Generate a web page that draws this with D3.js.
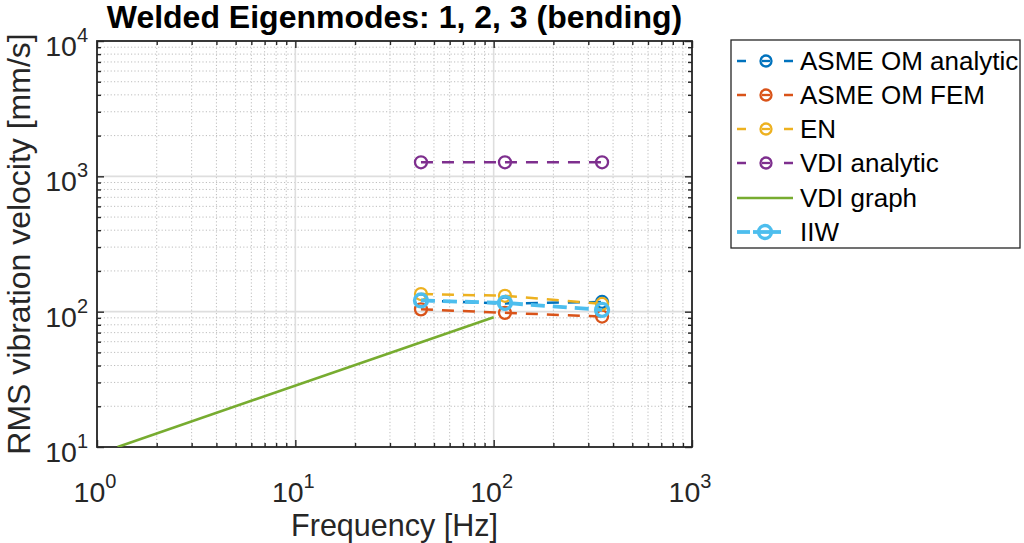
<!DOCTYPE html>
<html>
<head>
<meta charset="utf-8">
<script src="https://cdn.jsdelivr.net/npm/d3@7"></script>
<style>
  html, body { margin: 0; padding: 0; background: #fff; }
  svg { display: block; font-family: "Liberation Sans", Arial, Helvetica, sans-serif; }
</style>
</head>
<body>
<svg id="chart" width="1024" height="543"></svg>
<script>
// Eigenmode frequencies [Hz] of the welded structure (modes 1, 2, 3)
const modeFreq = [43, 114, 352];

// RMS vibration velocity limits [mm/s] for each method
const asmeAnalytic = [121, 115, 118];
const asmeFem      = [104, 98, 92];
const enValues     = [135, 131, 114];
const vdiAnalytic  = [1270, 1270, 1270];
const iiwValues    = [121, 116, 103];

// VDI limit curve (frequency, velocity)
const vdiGraphFreq = [1.27, 100];
const vdiGraphVel  = [10, 91];

const seriesNames = ["ASME OM analytic", "ASME OM FEM", "EN", "VDI analytic", "VDI graph", "IIW"];
const seriesColors = ["#0072BD", "#D95319", "#EDB120", "#7E2F8E", "#77AC30", "#4DBEEE"];

const xTickExp = [0, 1, 2, 3];
const yTickExp = [1, 2, 3, 4];

const svg = d3.select("#chart");
const pLeft = 97, pRight = 692, pTop = 41, pBottom = 447;

const x = d3.scaleLog().domain([1, 1000]).range([pLeft, pRight]);
const y = d3.scaleLog().domain([10, 10000]).range([pBottom, pTop]);

// minor positions: 2..9 within each decade
function minorTicks(lo, hi) {
  const out = [];
  for (let e = lo; e < hi; e++) for (let k = 2; k <= 9; k++) out.push(k * Math.pow(10, e));
  return out;
}
const xMinor = minorTicks(0, 3);
const yMinor = minorTicks(1, 4);
const xMajor = xTickExp.map(e => Math.pow(10, e));
const yMajor = yTickExp.map(e => Math.pow(10, e));

const grid = svg.append("g");
// minor grid (dotted)
grid.selectAll(".gxm").data(xMinor).join("line")
  .attr("x1", d => x(d)).attr("x2", d => x(d)).attr("y1", pTop).attr("y2", pBottom)
  .attr("stroke", "#bdbdbd").attr("stroke-width", 1).attr("stroke-dasharray", "1.2,2.2");
grid.selectAll(".gym").data(yMinor).join("line")
  .attr("y1", d => y(d)).attr("y2", d => y(d)).attr("x1", pLeft).attr("x2", pRight)
  .attr("stroke", "#bdbdbd").attr("stroke-width", 1).attr("stroke-dasharray", "1.2,2.2");
// major grid (solid)
grid.selectAll(".gxM").data(xMajor).join("line")
  .attr("x1", d => x(d)).attr("x2", d => x(d)).attr("y1", pTop).attr("y2", pBottom)
  .attr("stroke", "#dedede").attr("stroke-width", 1.6);
grid.selectAll(".gyM").data(yMajor).join("line")
  .attr("y1", d => y(d)).attr("y2", d => y(d)).attr("x1", pLeft).attr("x2", pRight)
  .attr("stroke", "#dedede").attr("stroke-width", 1.6);

// axes with inward ticks on all four sides
const axColor = "#262626";
function styleAxis(g) {
  g.select(".domain").remove();
  g.selectAll(".tick line").attr("stroke", axColor).attr("stroke-width", 1.4);
}
svg.append("g").attr("transform", `translate(0,${pBottom})`)
  .call(d3.axisBottom(x).tickValues(xMinor).tickSize(-4).tickFormat("")).call(styleAxis);
svg.append("g").attr("transform", `translate(0,${pBottom})`)
  .call(d3.axisBottom(x).tickValues(xMajor).tickSize(-7).tickFormat("")).call(styleAxis);
svg.append("g").attr("transform", `translate(0,${pTop})`)
  .call(d3.axisTop(x).tickValues(xMinor).tickSize(-4).tickFormat("")).call(styleAxis);
svg.append("g").attr("transform", `translate(0,${pTop})`)
  .call(d3.axisTop(x).tickValues(xMajor).tickSize(-7).tickFormat("")).call(styleAxis);
svg.append("g").attr("transform", `translate(${pLeft},0)`)
  .call(d3.axisLeft(y).tickValues(yMinor).tickSize(-4).tickFormat("")).call(styleAxis);
svg.append("g").attr("transform", `translate(${pLeft},0)`)
  .call(d3.axisLeft(y).tickValues(yMajor).tickSize(-7).tickFormat("")).call(styleAxis);
svg.append("g").attr("transform", `translate(${pRight},0)`)
  .call(d3.axisRight(y).tickValues(yMinor).tickSize(-4).tickFormat("")).call(styleAxis);
svg.append("g").attr("transform", `translate(${pRight},0)`)
  .call(d3.axisRight(y).tickValues(yMajor).tickSize(-7).tickFormat("")).call(styleAxis);

// box
svg.append("rect").attr("x", pLeft).attr("y", pTop).attr("width", pRight - pLeft).attr("height", pBottom - pTop)
  .attr("fill", "none").attr("stroke", axColor).attr("stroke-width", 1.8);

// tick labels as 10^n
const tickFont = 28.5, supFont = 20;
xTickExp.forEach(e => {
  const t = svg.append("text").attr("x", x(Math.pow(10, e)) - 2).attr("y", 502)
    .attr("text-anchor", "middle").attr("font-size", tickFont).attr("fill", axColor);
  t.append("tspan").text("10");
  t.append("tspan").attr("font-size", supFont).attr("dy", -14).text(String(e));
});
yTickExp.forEach(e => {
  const t = svg.append("text").attr("x", 88).attr("y", y(Math.pow(10, e)) + 15)
    .attr("text-anchor", "end").attr("font-size", tickFont).attr("fill", axColor);
  t.append("tspan").text("10");
  t.append("tspan").attr("font-size", supFont).attr("dy", -14).text(String(e));
});

// axis labels and title
svg.append("text").attr("x", (pLeft + pRight) / 2).attr("y", 535.5).attr("text-anchor", "middle")
  .attr("font-size", 30.5).attr("fill", axColor).text("Frequency [Hz]");
svg.append("text").attr("transform", `translate(30,${(pTop + pBottom) / 2}) rotate(-90)`)
  .attr("text-anchor", "middle").attr("font-size", 32).attr("fill", axColor)
  .text("RMS vibration velocity [mm/s]");
svg.append("text").attr("x", (pLeft + pRight) / 2).attr("y", 28).attr("text-anchor", "middle")
  .attr("font-size", 32).attr("font-weight", "bold").attr("fill", "#000")
  .text("Welded Eigenmodes: 1, 2, 3 (bending)");

// data
svg.append("clipPath").attr("id", "plotclip").append("rect")
  .attr("x", pLeft).attr("y", pTop).attr("width", pRight - pLeft).attr("height", pBottom - pTop);
const plot = svg.append("g").attr("clip-path", "url(#plotclip)");

const line = d3.line().x(d => x(d[0])).y(d => y(d[1]));
const pointSeries = [
  { vals: asmeAnalytic, color: seriesColors[0] },
  { vals: asmeFem,      color: seriesColors[1] },
  { vals: enValues,     color: seriesColors[2] },
  { vals: vdiAnalytic,  color: seriesColors[3] },
];

pointSeries.forEach(s => {
  const pts = modeFreq.map((f, i) => [f, s.vals[i]]);
  plot.append("path").attr("d", line(pts)).attr("fill", "none")
    .attr("stroke", s.color).attr("stroke-width", 2.5).attr("stroke-dasharray", "12,9");
  plot.selectAll(null).data(pts).join("circle")
    .attr("cx", d => x(d[0])).attr("cy", d => y(d[1])).attr("r", 6)
    .attr("fill", "none").attr("stroke", s.color).attr("stroke-width", 2.3);
});

// VDI graph curve
const vdiPts = vdiGraphFreq.map((f, i) => [f, vdiGraphVel[i]]);
plot.append("path").attr("d", line(vdiPts)).attr("fill", "none")
  .attr("stroke", seriesColors[4]).attr("stroke-width", 2.6);

// IIW (thicker)
const iiwPts = modeFreq.map((f, i) => [f, iiwValues[i]]);
plot.append("path").attr("d", line(iiwPts)).attr("fill", "none")
  .attr("stroke", seriesColors[5]).attr("stroke-width", 3.8).attr("stroke-dasharray", "14,8");
plot.selectAll(null).data(iiwPts).join("circle")
  .attr("cx", d => x(d[0])).attr("cy", d => y(d[1])).attr("r", 6.5)
  .attr("fill", "none").attr("stroke", seriesColors[5]).attr("stroke-width", 3.3);

// legend
const lg = svg.append("g");
lg.append("rect").attr("x", 731).attr("y", 40).attr("width", 289).attr("height", 208)
  .attr("fill", "#fff").attr("stroke", axColor).attr("stroke-width", 1.3);
const rowY = [61, 95, 129, 163, 198, 232];
seriesNames.forEach((name, i) => {
  const cy = rowY[i];
  const c = seriesColors[i];
  if (i === 4) {
    lg.append("line").attr("x1", 737).attr("x2", 793).attr("y1", cy).attr("y2", cy)
      .attr("stroke", c).attr("stroke-width", 2.6);
  } else if (i === 5) {
    lg.append("line").attr("x1", 737).attr("x2", 750).attr("y1", cy).attr("y2", cy)
      .attr("stroke", c).attr("stroke-width", 3.8);
    lg.append("line").attr("x1", 753).attr("x2", 781).attr("y1", cy).attr("y2", cy)
      .attr("stroke", c).attr("stroke-width", 3.8);
    lg.append("circle").attr("cx", 765).attr("cy", cy).attr("r", 6.5)
      .attr("fill", "none").attr("stroke", c).attr("stroke-width", 3.3);
  } else {
    lg.append("line").attr("x1", 737).attr("x2", 746).attr("y1", cy).attr("y2", cy)
      .attr("stroke", c).attr("stroke-width", 2.5);
    lg.append("line").attr("x1", 762).attr("x2", 770).attr("y1", cy).attr("y2", cy)
      .attr("stroke", c).attr("stroke-width", 2.3);
    lg.append("line").attr("x1", 784).attr("x2", 793).attr("y1", cy).attr("y2", cy)
      .attr("stroke", c).attr("stroke-width", 2.5);
    lg.append("circle").attr("cx", 766).attr("cy", cy).attr("r", 5.5)
      .attr("fill", "none").attr("stroke", c).attr("stroke-width", 2.3);
  }
  lg.append("text").attr("x", 800).attr("y", cy + 9).attr("font-size", 26).attr("fill", "#000")
    .text(name);
});
</script>
</body>
</html>
